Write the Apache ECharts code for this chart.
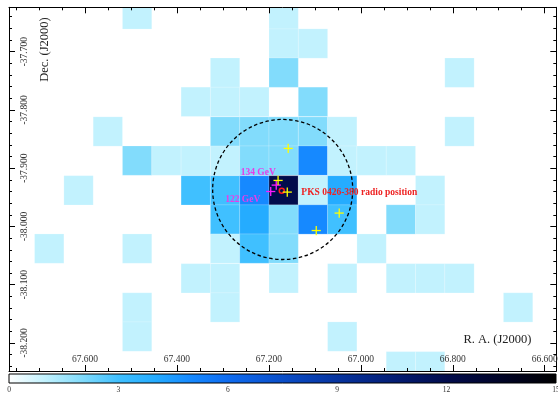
<!DOCTYPE html>
<html>
<head>
<meta charset="utf-8">
<script src="https://cdn.jsdelivr.net/npm/echarts@6/dist/echarts.min.js"></script>
<style>
  html, body { margin: 0; padding: 0; background: #fff; }
  #chart { width: 558px; height: 396px; }
</style>
</head>
<body>
<div id="chart"></div>
<script>
// bin centres of the count map (deg)
const raCenters = [67.7415, 67.6778, 67.6140, 67.5503, 67.4866, 67.4228, 67.3591, 67.2953, 67.2316,
  67.1679, 67.1041, 67.0404, 66.9766, 66.9129, 66.8492, 66.7854, 66.7217, 66.6579, 66.5942];
const decCenters = [-37.636, -37.686, -37.736, -37.786, -37.837, -37.887, -37.938, -37.988,
  -38.038, -38.089, -38.139, -38.189, -38.240];
const CELL_RA = 0.06374;
const CELL_DEC = 0.0503;

// photon counts, one row per dec bin (top to bottom), one column per RA bin (left to right)
const counts = [
  [0, 0, 0, 0, 1, 0, 0, 0, 0, 1, 0, 0, 0, 0, 0, 0, 0, 0, 0],
  [0, 0, 0, 0, 0, 0, 0, 0, 0, 1, 1, 0, 0, 0, 0, 0, 0, 0, 0],
  [0, 0, 0, 0, 0, 0, 0, 1, 0, 2, 0, 0, 0, 0, 0, 1, 0, 0, 0],
  [0, 0, 0, 0, 0, 0, 1, 1, 1, 0, 2, 0, 0, 0, 0, 0, 0, 0, 0],
  [0, 0, 0, 1, 0, 0, 0, 2, 2, 2, 2, 1, 0, 0, 0, 1, 0, 0, 0],
  [0, 0, 0, 0, 2, 1, 1, 1, 2, 2, 5, 1, 1, 1, 0, 0, 0, 0, 0],
  [0, 0, 1, 0, 0, 0, 3, 3, 5, 12, 1, 4, 0, 0, 1, 0, 0, 0, 0],
  [0, 0, 0, 0, 0, 0, 0, 3, 4, 2, 5, 3, 0, 2, 1, 0, 0, 0, 0],
  [0, 1, 0, 0, 1, 0, 0, 1, 3, 2, 0, 0, 1, 0, 0, 0, 0, 0, 0],
  [0, 0, 0, 0, 0, 0, 1, 1, 0, 1, 0, 1, 0, 1, 1, 1, 0, 0, 0],
  [0, 0, 0, 0, 1, 0, 0, 1, 0, 0, 0, 0, 0, 0, 0, 0, 0, 1, 0],
  [0, 0, 0, 0, 1, 0, 0, 0, 0, 0, 0, 1, 0, 0, 0, 0, 0, 0, 0],
  [0, 0, 0, 0, 0, 0, 0, 0, 0, 0, 0, 0, 0, 1, 1, 0, 0, 0, 0]
];

// colour for 0..15 counts
const colormap = ['#ffffff', '#c2f2fe', '#82dcfc', '#40c0ff', '#25acff', '#1689ff', '#0f6cf0', '#0c58d6',
  '#0945bb', '#07349f', '#052584', '#031868', '#020c4c', '#010633', '#00021a', '#000000'];
const colorTicks = [0, 3, 6, 9, 12, 15];

// axis extents and ticks
const RA_MIN = 66.5748, RA_MAX = 67.7653;
const DEC_MIN = -38.2481, DEC_MAX = -37.6238;
const raMajor = [67.6, 67.4, 67.2, 67.0, 66.8, 66.6];
const raMinor = [67.75, 67.70, 67.65, 67.55, 67.50, 67.45, 67.35, 67.30, 67.25, 67.15, 67.10, 67.05,
  66.95, 66.90, 66.85, 66.75, 66.70, 66.65];
const decMajor = [-37.7, -37.8, -37.9, -38.0, -38.1, -38.2];
const decMinor = [-37.64, -37.66, -37.68, -37.72, -37.74, -37.76, -37.78, -37.82, -37.84, -37.86, -37.88,
  -37.92, -37.94, -37.96, -37.98, -38.02, -38.04, -38.06, -38.08, -38.12, -38.14, -38.16, -38.18,
  -38.22, -38.24];

// events
const yellowRA = [67.158, 67.180, 67.160, 67.047, 67.097];
const yellowDec = [-37.866, -37.921, -37.941, -37.977, -38.007];
const magentaRA = [67.196, 67.184];
const magentaDec = [-37.940, -37.929];
const magentaLabels = ['122 GeV', '134 GeV'];
const sourceRA = [67.172];
const sourceDec = [-37.9386];
const sourceLabel = ['PKS 0426-380 radio position'];
const psfCenter = [67.170, -37.9365];
const psfRadius = 0.1202;

const FONT = '"Liberation Serif", "Times New Roman", serif';
const magentaLabelOffset = [[-28, 8], [-18, -13]];

const cells = [];
counts.forEach((row, r) => row.forEach((v, c) => {
  if (v > 0) cells.push([raCenters[c], decCenters[r], v]);
}));

const chart = echarts.init(document.getElementById('chart'), null, { renderer: 'canvas' });

function clipBox(params) {
  return { x: params.coordSys.x, y: params.coordSys.y, width: params.coordSys.width, height: params.coordSys.height };
}

function renderCell(params, api) {
  const p = api.coord([api.value(0), api.value(1)]);
  const s = api.size([CELL_RA, CELL_DEC], [api.value(0), api.value(1)]);
  const shape = echarts.graphic.clipRectByRect(
    { x: p[0] - s[0] / 2, y: p[1] - s[1] / 2, width: s[0], height: s[1] }, clipBox(params));
  if (!shape) return;
  return {
    type: 'rect', shape,
    style: { fill: api.visual('color'), stroke: 'rgba(255,255,255,0.3)', lineWidth: 0.6 }
  };
}

function crossRenderer(color, labels, offsets, labelColor) {
  return function (params, api) {
    const p = api.coord([api.value(0), api.value(1)]);
    const h = 4.6;
    const children = [
      { type: 'line', shape: { x1: p[0] - h, y1: p[1], x2: p[0] + h, y2: p[1] }, style: { stroke: color, lineWidth: 1.3 } },
      { type: 'line', shape: { x1: p[0], y1: p[1] - h, x2: p[0], y2: p[1] + h }, style: { stroke: color, lineWidth: 1.3 } }
    ];
    if (labels) {
      const o = offsets[params.dataIndex];
      children.unshift({
        type: 'text', x: p[0] + o[0], y: p[1] + o[1],
        style: { text: labels[params.dataIndex], fill: labelColor, font: 'bold 9.5px ' + FONT,
          align: 'center', verticalAlign: 'middle' }
      });
    }
    return { type: 'group', children };
  };
}

const tickStyle = { color: '#000', width: 1 };

function raAxis(position, major, withLabel) {
  return {
    gridIndex: 0, type: 'value', position, inverse: true, min: RA_MIN, max: RA_MAX, z: 10,
    axisLine: { show: withLabel, lineStyle: tickStyle },
    splitLine: { show: false },
    axisTick: { show: true, inside: true, length: major ? 6 : 3, customValues: major ? raMajor : raMinor, lineStyle: tickStyle },
    axisLabel: {
      show: withLabel && position === 'bottom', inside: true, customValues: raMajor,
      formatter: v => v.toFixed(3), fontFamily: FONT, fontSize: 9.5, color: '#333', margin: 7
    }
  };
}

function decAxis(position, major, withLabel) {
  return {
    gridIndex: 0, type: 'value', position, min: DEC_MIN, max: DEC_MAX, z: 10,
    axisLine: { show: withLabel, lineStyle: tickStyle },
    splitLine: { show: false },
    axisTick: { show: true, inside: true, length: major ? 6 : 3, customValues: major ? decMajor : decMinor, lineStyle: tickStyle },
    axisLabel: {
      show: withLabel && position === 'left', inside: true, rotate: 90, customValues: decMajor,
      formatter: v => v.toFixed(3), fontFamily: FONT, fontSize: 9.5, color: '#333', margin: 10
    }
  };
}

const option = {
  animation: false,
  backgroundColor: '#fff',
  grid: [
    { left: 9, top: 7.3, width: 547.3, height: 363.7, outerBoundsMode: 'none' },
    { left: 9, top: 374, width: 547, height: 9, outerBoundsMode: 'none' }
  ],
  xAxis: [
    raAxis('bottom', false, true),
    raAxis('bottom', true, false),
    raAxis('top', false, true),
    raAxis('top', true, false),
    {
      gridIndex: 1, type: 'value', min: 0, max: 15, interval: 3, position: 'bottom',
      axisLine: { show: false }, axisTick: { show: false }, splitLine: { show: false },
      axisLabel: { customValues: colorTicks, fontFamily: FONT, fontSize: 7.5, color: '#333', margin: 3 }
    }
  ],
  yAxis: [
    decAxis('left', false, true),
    decAxis('left', true, false),
    decAxis('right', false, true),
    decAxis('right', true, false),
    { gridIndex: 1, type: 'value', min: 0, max: 1, show: false }
  ],
  visualMap: {
    type: 'continuous', show: false, min: 0, max: 15, dimension: 2, seriesIndex: 0,
    inRange: { color: colormap }
  },
  graphic: [
    { type: 'text', x: 44.5, y: 49.5, rotation: Math.PI / 2, z: 20,
      style: { text: 'Dec. (J2000)', font: '12.5px ' + FONT, fill: '#222', align: 'center', verticalAlign: 'middle' } },
    { type: 'text', x: 497.5, y: 340, z: 20,
      style: { text: 'R. A. (J2000)', font: '12.5px ' + FONT, fill: '#222', align: 'center', verticalAlign: 'middle' } }
  ],
  series: [
    {
      type: 'custom', name: 'counts', xAxisIndex: 0, yAxisIndex: 0,
      dimensions: ['ra', 'dec', 'count'],
      encode: { x: 0, y: 1 },
      renderItem: renderCell, data: cells
    },
    {
      type: 'custom', name: 'psf', xAxisIndex: 0, yAxisIndex: 0,
      renderItem: function (params, api) {
        const p = api.coord([api.value(0), api.value(1)]);
        const r = api.size([0, psfRadius], [api.value(0), api.value(1)])[1];
        return { type: 'circle', shape: { cx: p[0], cy: p[1], r },
          style: { fill: 'none', stroke: '#000', lineWidth: 1.3, lineDash: [3.5, 2.5] } };
      },
      data: [psfCenter]
    },
    {
      type: 'custom', name: 'source', xAxisIndex: 0, yAxisIndex: 0,
      renderItem: function (params, api) {
        const p = api.coord([api.value(0), api.value(1)]);
        return { type: 'group', children: [
          { type: 'circle', shape: { cx: p[0], cy: p[1], r: 2.5 }, style: { fill: 'none', stroke: '#ff1a1a', lineWidth: 1.5 } },
          { type: 'text', x: p[0] + 19.6, y: p[1] + 2,
            style: { text: sourceLabel[params.dataIndex], fill: '#ee2222', font: 'bold 9.5px ' + FONT,
              align: 'left', verticalAlign: 'middle' } }
        ] };
      },
      data: sourceRA.map((v, i) => [v, sourceDec[i]])
    },
    {
      type: 'custom', name: 'magenta', xAxisIndex: 0, yAxisIndex: 0,
      renderItem: crossRenderer('#ff1aff', magentaLabels, magentaLabelOffset, '#e83ce8'),
      data: magentaRA.map((v, i) => [v, magentaDec[i]])
    },
    {
      type: 'custom', name: 'yellow', xAxisIndex: 0, yAxisIndex: 0,
      renderItem: crossRenderer('#ffff00'),
      data: yellowRA.map((v, i) => [v, yellowDec[i]])
    },
    {
      type: 'custom', name: 'colorbar', xAxisIndex: 4, yAxisIndex: 4,
      renderItem: function (params, api) {
        const p0 = api.coord([api.value(0), 0]);
        const p1 = api.coord([api.value(1), 1]);
        const stops = colormap.map((c, i) => ({ offset: i / (colormap.length - 1), color: c }));
        return { type: 'rect',
          shape: { x: p0[0], y: p1[1], width: p1[0] - p0[0], height: p0[1] - p1[1] },
          style: { fill: new echarts.graphic.LinearGradient(0, 0, 1, 0, stops), stroke: '#000', lineWidth: 1 } };
      },
      data: [[colorTicks[0], colorTicks[colorTicks.length - 1]]]
    }
  ]
};

chart.setOption(option);
</script>
</body>
</html>
